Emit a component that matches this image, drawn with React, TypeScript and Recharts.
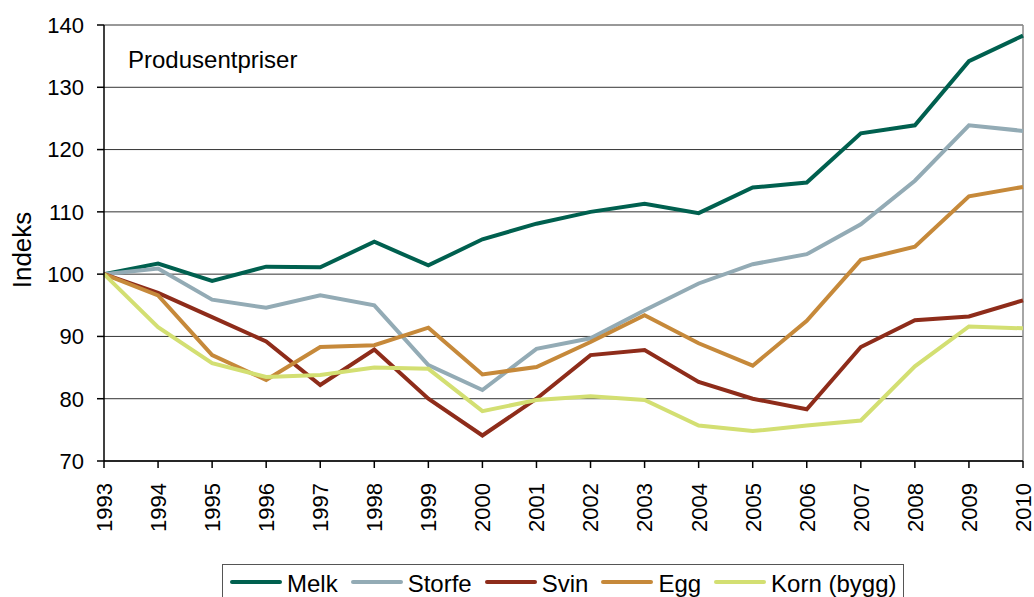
import React from "react";
import { LineChart, Line, XAxis, YAxis, CartesianGrid, Legend, ReferenceLine } from "recharts";

const years = ["1993", "1994", "1995", "1996", "1997", "1998", "1999", "2000", "2001", "2002", "2003", "2004", "2005", "2006", "2007", "2008", "2009", "2010"];
const melk = [100, 101.7, 98.9, 101.2, 101.1, 105.2, 101.4, 105.6, 108.1, 110.0, 111.3, 109.8, 113.9, 114.7, 122.6, 123.9, 134.2, 138.3];
const storfe = [100, 100.9, 95.9, 94.6, 96.6, 95.0, 85.4, 81.4, 88.0, 89.7, 94.2, 98.5, 101.6, 103.2, 108.0, 115.0, 123.9, 123.0];
const svin = [100, 97.0, 93.1, 89.2, 82.2, 87.9, 80.0, 74.1, 80.0, 87.0, 87.8, 82.7, 80.0, 78.3, 88.3, 92.6, 93.2, 95.8];
const egg = [100, 96.6, 87.0, 83.0, 88.3, 88.6, 91.4, 83.9, 85.1, 89.1, 93.4, 88.9, 85.3, 92.5, 102.3, 104.4, 112.5, 114.0];
const korn = [100, 91.5, 85.7, 83.5, 83.8, 85.0, 84.8, 78.0, 79.8, 80.4, 79.8, 75.7, 74.8, 75.7, 76.5, 85.2, 91.6, 91.3];
const yTicks = [70, 80, 90, 100, 110, 120, 130, 140];

const series = [
  { key: "melk", name: "Melk", color: "#00604f" },
  { key: "storfe", name: "Storfe", color: "#93abb5" },
  { key: "svin", name: "Svin", color: "#8e2c1a" },
  { key: "egg", name: "Egg", color: "#c6893a" },
  { key: "korn", name: "Korn (bygg)", color: "#d3df72" },
];

const data = years.map((year, i) => ({
  year,
  melk: melk[i],
  storfe: storfe[i],
  svin: svin[i],
  egg: egg[i],
  korn: korn[i],
}));

const FONT = "'Liberation Sans', Arial, sans-serif";

// year labels are rotated, reading bottom to top, top end just under the ticks
function YearTick({ x, y, payload }: any) {
  const ty = y + 13;
  return (
    <text
      x={x}
      y={ty}
      transform={`rotate(-90 ${x} ${ty})`}
      textAnchor="end"
      dy="0.36em"
      fontSize={22}
      fontFamily={FONT}
      fill="#000"
    >
      {payload.value}
    </text>
  );
}

function LegendBox() {
  return (
    <div
      style={{
        border: "1px solid #555",
        height: 36,
        boxSizing: "border-box",
        display: "flex",
        alignItems: "center",
        paddingLeft: 7,
        fontFamily: FONT,
        fontSize: 24,
        color: "#000",
        background: "#fff",
        whiteSpace: "nowrap",
      }}
    >
      {series.map((s) => (
        <div key={s.key} style={{ display: "flex", alignItems: "center", marginRight: 13, flexShrink: 0 }}>
          <div style={{ width: 52, height: 4, borderRadius: 2, background: s.color, marginRight: 5 }} />
          <span style={{ position: "relative", top: 2 }}>{s.name}</span>
        </div>
      ))}
    </div>
  );
}

export default function App() {
  return (
    <div style={{ position: "absolute", left: 0, top: 0, width: 1034, height: 597, background: "#fff" }}>
      <LineChart width={1034} height={597} data={data} margin={{ top: 25, right: 11, left: 0, bottom: 0 }}>
        <CartesianGrid vertical={false} stroke="#333" strokeWidth={1} />
        <XAxis
          dataKey="year"
          interval={0}
          height={136}
          tick={<YearTick />}
          tickSize={7}
          axisLine={{ stroke: "#000", strokeWidth: 1.5 }}
          tickLine={{ stroke: "#000", strokeWidth: 1.5 }}
        />
        <YAxis
          width={104}
          domain={[70, 140]}
          ticks={yTicks}
          interval={0}
          tickSize={7}
          tickMargin={13}
          tick={{ fontSize: 22, fontFamily: FONT, fill: "#000" }}
          axisLine={{ stroke: "#000", strokeWidth: 1.5 }}
          tickLine={{ stroke: "#000", strokeWidth: 1.5 }}
          label={{
            content: () => (
              <text
                x={22}
                y={250}
                transform="rotate(-90 22 250)"
                textAnchor="middle"
                dy="0.36em"
                fontSize={26}
                fontFamily={FONT}
                fill="#000"
              >
                Indeks
              </text>
            ),
          }}
        />
        <ReferenceLine x="2010" stroke="#888" strokeWidth={1.5} />
        {series.map((s) => (
          <Line
            key={s.key}
            type="linear"
            dataKey={s.key}
            name={s.name}
            stroke={s.color}
            strokeWidth={4}
            dot={false}
            isAnimationActive={false}
          />
        ))}
        <Legend
          layout="horizontal"
          verticalAlign="middle"
          align="center"
          wrapperStyle={{ left: 222, top: 564, width: 682 }}
          content={() => <LegendBox />}
        />
        <text x={128} y={68} fontSize={24} fontFamily={FONT} fill="#000">
          Produsentpriser
        </text>
      </LineChart>
    </div>
  );
}
